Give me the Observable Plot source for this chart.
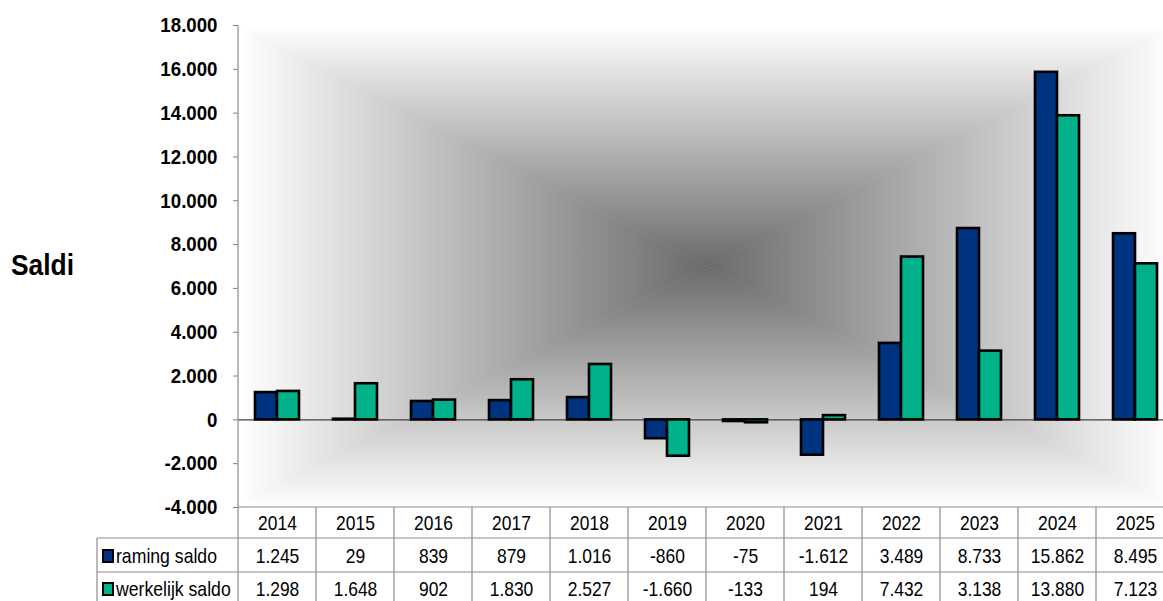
<!DOCTYPE html>
<html><head><meta charset="utf-8">
<script src="https://cdn.jsdelivr.net/npm/d3@7"></script>
<script src="https://cdn.jsdelivr.net/npm/@observablehq/plot@0.6"></script>
<style>
body{margin:0;background:#fff;}
#wrap{position:relative;width:1163px;height:601px;overflow:hidden;background:#fff;}
#wrap svg{position:absolute;left:0;top:0;}
</style></head><body><div id="wrap"></div>
<script>
const years = ["2014","2015","2016","2017","2018","2019","2020","2021","2022","2023","2024","2025"];
const seriesNames = ["raming saldo","werkelijk saldo"];
const raming = [1245,29,839,879,1016,-860,-75,-1612,3489,8733,15862,8495];
const werkelijk = [1298,1648,902,1830,2527,-1660,-133,194,7432,3138,13880,7123];
const seriesColors = ["#00337f","#00b189"];
const yTicks = [-4000,-2000,0,2000,4000,6000,8000,10000,12000,14000,16000,18000];
const yLabel = "Saldi";

const FONT = '"Liberation Sans",Arial,sans-serif';
const nl = d3.formatLocale({decimal:",", thousands:".", grouping:[3], currency:["€",""], minus:"-"});
const fmt = nl.format(",d");

const bars = [];
years.forEach((y,i)=>{
  bars.push({year:y, series:seriesNames[0], value:raming[i]});
  bars.push({year:y, series:seriesNames[1], value:werkelijk[i]});
});
const rows = years.map((y,i)=>({year:y, raming:raming[i], werkelijk:werkelijk[i]}));

const W = 1200, H = 610;
const plot = Plot.plot({
  width: W, height: H,
  marginLeft: 234, marginRight: 23, marginTop: 25, marginBottom: 103,
  style: {maxWidth:"none", background:"none", fontFamily: FONT, overflow:"visible"},
  fx: {domain: years, padding: 0, axis: null},
  x: {domain: seriesNames, paddingInner: 0, paddingOuter: 0.7, axis: null},
  y: {domain: [-4000, 18000], axis: null},
  color: {domain: seriesNames, range: seriesColors},
  marks: [
    Plot.ruleY([0], {stroke:"#404040", strokeWidth:1.2}),
    Plot.barY(bars, {fx:"year", x:"series", y:"value", fill:"series", stroke:"#000", strokeWidth:2.6}),
    Plot.axisY({ticks: yTicks, tickFormat: fmt, tickSize: 5, tickPadding: 16, fontSize: 21, fontWeight: "bold", stroke:"#808080", fill:"#000", anchor:"left", label: null}),
    Plot.text(rows, {fx:"year", text:"year", frameAnchor:"bottom", lineAnchor:"middle", dy:15.5, fontSize:21, fill:"#000"}),
    Plot.text(rows, {fx:"year", text:d=>fmt(d.raming), frameAnchor:"bottom", lineAnchor:"middle", dy:48.5, fontSize:21, fill:"#000"}),
    Plot.text(rows, {fx:"year", text:d=>fmt(d.werkelijk), frameAnchor:"bottom", lineAnchor:"middle", dy:81.5, fontSize:21, fill:"#000"})
  ]
});

const wrap = document.getElementById("wrap");
wrap.appendChild(plot);

// condense text horizontally (the reference uses a narrow face)
function squeeze(sel, ratio){
  sel.each(function(){
    const L = this.getComputedTextLength();
    this.setAttribute("textLength", (L*ratio).toFixed(2));
    this.setAttribute("lengthAdjust", "spacingAndGlyphs");
  });
}

const svg = d3.select(plot);
squeeze(svg.selectAll('g[aria-label="text"] text'), 0.83);
squeeze(svg.selectAll('g[aria-label="y-axis tick label"] text'), 0.89);

// decoration: rectangular "from center" gradient background + table grid
const fxs = plot.scale("fx"), ys = plot.scale("y");
const bw = fxs.bandwidth;
const pLeft = fxs.apply(years[0]), pRight = fxs.apply(years[years.length-1]) + bw;
const pTop = ys.apply(18000), pBottom = ys.apply(-4000);
const cx = (pLeft+pRight)/2, cy = (pTop+pBottom)/2;
const bg = svg.insert("g", ":first-child");
const defs = bg.append("defs");
const CEN = "#6b6b6b", EDGE = "#ffffff";
function grad(id, x1,y1,x2,y2){
  const g = defs.append("linearGradient").attr("id",id).attr("gradientUnits","userSpaceOnUse")
    .attr("x1",x1).attr("y1",y1).attr("x2",x2).attr("y2",y2);
  g.append("stop").attr("offset",0).attr("stop-color",EDGE);
  g.append("stop").attr("offset",1).attr("stop-color",CEN);
}
grad("gT", cx, pTop, cx, cy); grad("gB", cx, pBottom, cx, cy);
grad("gL", pLeft, cy, cx, cy); grad("gR", pRight, cy, cx, cy);
const poly = (pts, id) => bg.append("polygon").attr("points", pts.map(p=>p.join(",")).join(" ")).attr("fill",`url(#${id})`).attr("stroke",`url(#${id})`).attr("stroke-width",0.6);
poly([[pLeft,pTop],[pRight,pTop],[cx,cy]], "gT");
poly([[pLeft,pBottom],[pRight,pBottom],[cx,cy]], "gB");
poly([[pLeft,pTop],[pLeft,pBottom],[cx,cy]], "gL");
poly([[pRight,pTop],[pRight,pBottom],[cx,cy]], "gR");

const grid = svg.append("g").attr("stroke","#8c8c8c").attr("stroke-width",1.2).attr("fill","none");
const r0 = pBottom, r1 = pBottom+31, r2 = pBottom+65, r3 = H;
const tableLeft = 97;
grid.append("line").attr("x1",pLeft).attr("x2",pRight).attr("y1",r0).attr("y2",r0);
grid.append("line").attr("x1",tableLeft).attr("x2",pRight).attr("y1",r1).attr("y2",r1);
grid.append("line").attr("x1",tableLeft).attr("x2",pRight).attr("y1",r2).attr("y2",r2);
grid.append("line").attr("x1",tableLeft).attr("x2",tableLeft).attr("y1",r1).attr("y2",r3);
grid.append("line").attr("x1",pLeft).attr("x2",pLeft).attr("y1",pTop).attr("y2",r3);
years.forEach(y=>{ const x = fxs.apply(y)+bw; grid.append("line").attr("x1",x).attr("x2",x).attr("y1",r0).attr("y2",r3); });

const leg = svg.append("g").attr("text-anchor","start");
seriesNames.forEach((s,i)=>{
  const yc = i===0 ? 556 : 589;
  leg.append("rect").attr("x",103).attr("y",yc-6).attr("width",10).attr("height",12)
    .attr("fill",seriesColors[i]).attr("stroke","#000").attr("stroke-width",2);
  leg.append("text").attr("x",116).attr("y",yc).attr("dy","0.35em").attr("font-size",21)
    .attr("font-family",FONT).attr("fill","#000").text(s);
});
squeeze(leg.selectAll("text"), 0.84);

const yl = svg.append("text").attr("x",11).attr("y",275).attr("text-anchor","start")
  .attr("font-size",29).attr("font-weight","bold").attr("font-family",FONT).attr("fill","#000").text(yLabel);
squeeze(yl, 0.91);
</script></body></html>
